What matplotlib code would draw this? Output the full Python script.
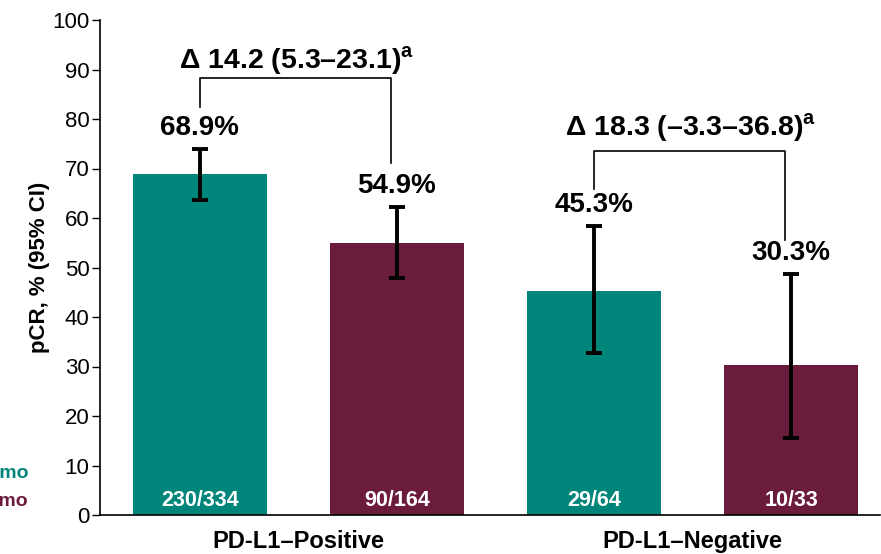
import matplotlib
matplotlib.use("Agg")
import matplotlib.pyplot as plt

plt.rcParams["font.family"] = ["Liberation Sans", "DejaVu Sans"]
plt.rcParams["mathtext.fontset"] = "custom"
plt.rcParams["mathtext.rm"] = "Liberation Sans"
plt.rcParams["mathtext.bf"] = "Liberation Sans:bold"

# Data
groups = ["PD-L1–Positive", "PD-L1–Negative"]
arms = ["Pembro + Chemo", "Placebo + Chemo"]
pcr = [68.9, 54.9, 45.3, 30.3]
ci_low = [63.6, 47.9, 32.7, 15.6]
ci_high = [74.0, 62.2, 58.4, 48.7]
counts = ["230/334", "90/164", "29/64", "10/33"]
deltas = ["Δ 14.2 (5.3–23.1)", "Δ 18.3 (–3.3–36.8)"]

teal = "#00857a"
maroon = "#6b1b3c"
colors = [teal, maroon, teal, maroon]

W, H = 881, 554
fig = plt.figure(figsize=(W / 100, H / 100), dpi=100)
ax = fig.add_axes([100 / W, (H - 515) / H, (880 - 100) / W, (515 - 20) / H])

x = [0, 1, 2, 3]
err_lo = [p - l for p, l in zip(pcr, ci_low)]
err_hi = [h - p for p, h in zip(pcr, ci_high)]
ax.bar(x, pcr, width=0.68, color=colors, zorder=2)
ax.errorbar(x, pcr, yerr=[err_lo, err_hi], fmt="none", ecolor="black",
            elinewidth=2.8, capsize=5.5, capthick=2.8, zorder=3)

ax.set_xlim(-0.505, 3.45)
ax.set_ylim(0, 100)
ax.set_yticks(range(0, 101, 10))
ax.tick_params(axis="y", labelsize=16, length=6, width=1, pad=1.5,
               direction="out")
ax.set_xticks([])
for s in ("top", "right"):
    ax.spines[s].set_visible(False)
ax.spines["left"].set_linewidth(1.2)
ax.spines["bottom"].set_linewidth(1.2)

ax.set_ylabel("pCR, % (95% CI)", fontsize=16, fontweight="bold", labelpad=2)

# Value labels above the confidence intervals
for xi, v, hi in zip(x, pcr, ci_high):
    ax.annotate(f"{v}%", (xi, hi), xytext=(0, 15), textcoords="offset points",
                ha="center", va="center", fontsize=20, fontweight="bold")

# Counts inside the bars
for xi, c in zip(x, counts):
    ax.text(xi, 3.0, c, ha="center", va="center", color="white",
            fontsize=15.5, fontweight="bold")

# Group labels under the axis
for gi, g in enumerate(groups):
    ax.text(2 * gi + 0.5, -5.3, g, ha="center", va="center",
            fontsize=17, fontweight="bold")

# Difference brackets
brackets = [
    (0, 1, 88.3, 82.4, 71.2, 91.7),
    (2, 3, 73.5, 65.8, 55.6, 78.2),
]
for (xl, xr, top, lb, rb, ty), d in zip(brackets, deltas):
    ax.plot([xl, xl, xr - 0.03, xr - 0.03], [lb, top, top, rb],
            color="black", lw=1.2, zorder=4)
    ax.text((xl + xr) / 2 - 0.01, ty, d + r"$^{\mathbf{a}}$", ha="center",
            va="center", fontsize=20.5, fontweight="bold")

# Legend entries at the left edge
fig.text(28 / W, 1 - 473 / H, arms[0], ha="right", va="center",
         color=teal, fontsize=14, fontweight="bold")
fig.text(28 / W, 1 - 501 / H, arms[1], ha="right", va="center",
         color=maroon, fontsize=14, fontweight="bold")

fig.savefig("out.png", dpi=100)
